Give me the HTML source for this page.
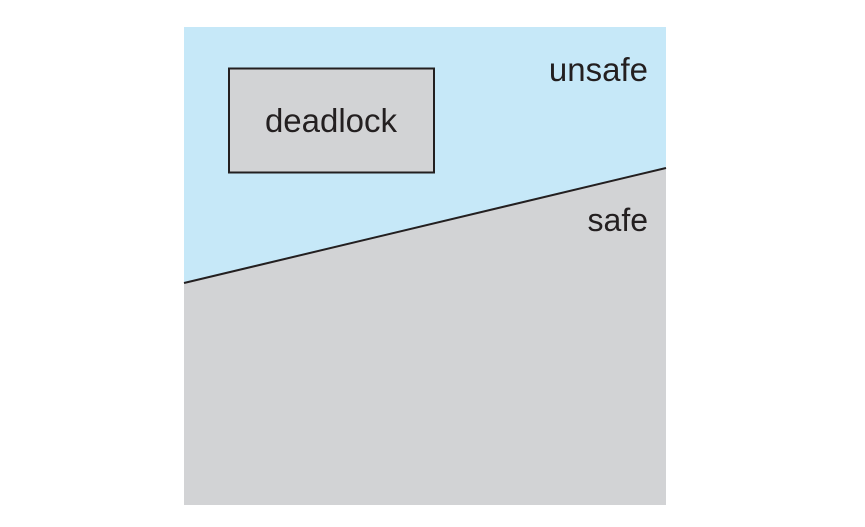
<!DOCTYPE html>
<html><head><meta charset="utf-8"><style>
html,body{margin:0;padding:0;background:#fff;width:865px;height:527px;overflow:hidden}
text{font-family:"Liberation Sans",sans-serif;fill:#231f20}
</style></head><body>
<svg width="865" height="527" viewBox="0 0 865 527">
<rect x="184" y="27" width="482" height="478" fill="#c6e8f8"/>
<polygon points="184,283 666,168 666,505 184,505" fill="#d2d3d5"/>
<line x1="184" y1="283" x2="666" y2="168" stroke="#231f20" stroke-width="2"/>
<rect x="229" y="68.5" width="205" height="104" fill="#d2d3d5" stroke="#231f20" stroke-width="2"/>
<text x="331" y="132" font-size="33" text-anchor="middle">deadlock</text>
<text x="648" y="81" font-size="33" text-anchor="end">unsafe</text>
<text x="648" y="231" font-size="32" text-anchor="end">safe</text>
</svg>
</body></html>
